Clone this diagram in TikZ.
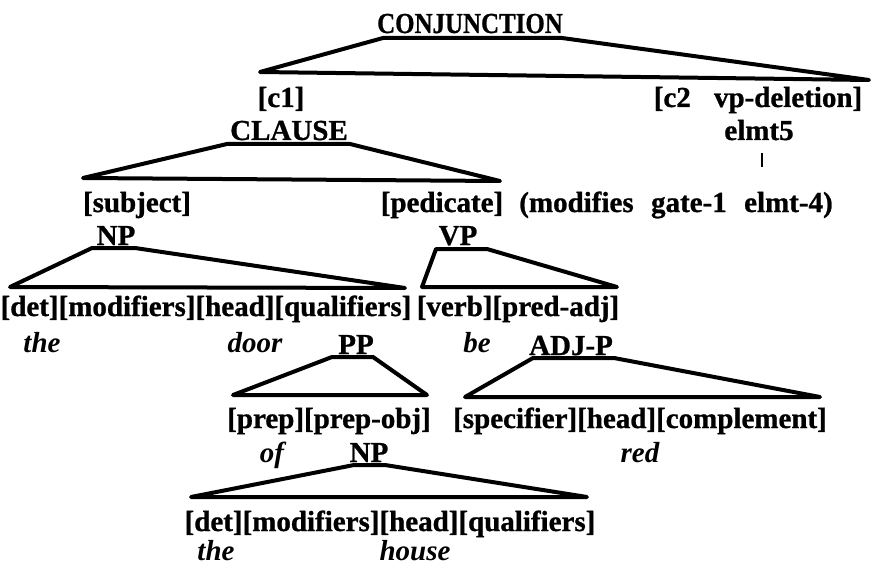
\documentclass[tikz,border=0pt]{standalone}
\usepackage{fontspec}
\setmainfont{Liberation Serif}[BoldFeatures={FakeBold=0.9}]
\begin{document}
\begin{tikzpicture}[x=1pt,y=-1pt,
  lbl/.style={font=\fontsize{29}{32}\selectfont\bfseries, inner sep=0pt, anchor=base},
  word/.style={lbl, font=\fontsize{29}{32}\selectfont\bfseries\itshape},
  tree/.style={line width=4pt, line cap=round, line join=round}]
\useasboundingbox (0,0) rectangle (873,567);
% labels
\node[lbl] (conj) at (470,33) {\scalebox{0.86}[1]{CONJUNCTION}};
\node[lbl] (c1) at (281,107) {[c1]};
\node[lbl] (c2) at (758,107) {[c2\hspace{0.8em}vp-deletion]};
\node[lbl] (clause) at (289,140) {CLAUSE};
\node[lbl] (elmt) at (759,140) {elmt5};
\node[lbl] (subj) at (137,212) {[subject]};
\node[lbl] (pred) at (442,212) {[pedicate]};
\node[lbl] (mod) at (676,212) {(modifies\hspace{0.6em}gate-1\hspace{0.6em}elmt-4)};
\node[lbl] (np1) at (116,245) {NP};
\node[lbl] (vp) at (458,245) {VP};
\node[lbl] (np1kids) at (206,316) {[det][modifiers][head][qualifiers]};
\node[lbl] (vpkids) at (518,316) {[verb][pred-adj]};
\node[word] (the1) at (42,352) {the};
\node[word] (door) at (255,352) {door};
\node[lbl] (pp) at (356,354) {PP};
\node[word] (be) at (477,352) {be};
\node[lbl] (adjp) at (571,355) {ADJ-P};
\node[lbl] (ppkids) at (329,428) {[prep][prep-obj]};
\node[lbl] (adjkids) at (640,428) {[specifier][head][complement]};
\node[word] (of) at (272,462) {of};
\node[lbl] (np2) at (369,462) {NP};
\node[word] (red) at (640,462) {red};
\node[lbl] (np2kids) at (390,531) {[det][modifiers][head][qualifiers]};
\node[word] (the2) at (216,560) {the};
\node[word] (house) at (415,560) {house};
% trapezoid corners
\coordinate (conjTL) at (383,38);  \coordinate (conjTR) at (562,38);
\coordinate (conjBL) at (260,72);  \coordinate (conjBR) at (869,80);
\coordinate (clTL) at (227,144);   \coordinate (clTR) at (350,144);
\coordinate (clBL) at (83,178);    \coordinate (clBR) at (500,181);
\coordinate (npaTL) at (92,248);   \coordinate (npaTR) at (135,248);
\coordinate (npaBL) at (10,287);   \coordinate (npaBR) at (405,288);
\coordinate (vpTL) at (436,249);   \coordinate (vpTR) at (487,249);
\coordinate (vpBL) at (422,287);   \coordinate (vpBR) at (617,287);
\coordinate (ppTL) at (332,357);   \coordinate (ppTR) at (373,357);
\coordinate (ppBL) at (233,395);   \coordinate (ppBR) at (427,395);
\coordinate (adTL) at (533,358);   \coordinate (adTR) at (614,358);
\coordinate (adBL) at (465,397);   \coordinate (adBR) at (820,397);
\coordinate (npbTL) at (354,465);  \coordinate (npbTR) at (385,465);
\coordinate (npbBL) at (191,497);  \coordinate (npbBR) at (587,497);
\coordinate (barT) at (762,153);   \coordinate (barB) at (762,167);
% connectors
\draw[tree] (conjBL) -- (conjTL) -- (conjTR) -- (conjBR) -- cycle;
\draw[tree] (clBL) -- (clTL) -- (clTR) -- (clBR) -- cycle;
\draw[tree] (npaBL) -- (npaTL) -- (npaTR) -- (npaBR) -- cycle;
\draw[tree] (vpBL) -- (vpTL) -- (vpTR) -- (vpBR) -- cycle;
\draw[tree] (ppBL) -- (ppTL) -- (ppTR) -- (ppBR) -- cycle;
\draw[tree] (adBL) -- (adTL) -- (adTR) -- (adBR) -- cycle;
\draw[tree] (npbBL) -- (npbTL) -- (npbTR) -- (npbBR) -- cycle;
\draw[line width=2.8pt] (barT) -- (barB);
\end{tikzpicture}
\end{document}
